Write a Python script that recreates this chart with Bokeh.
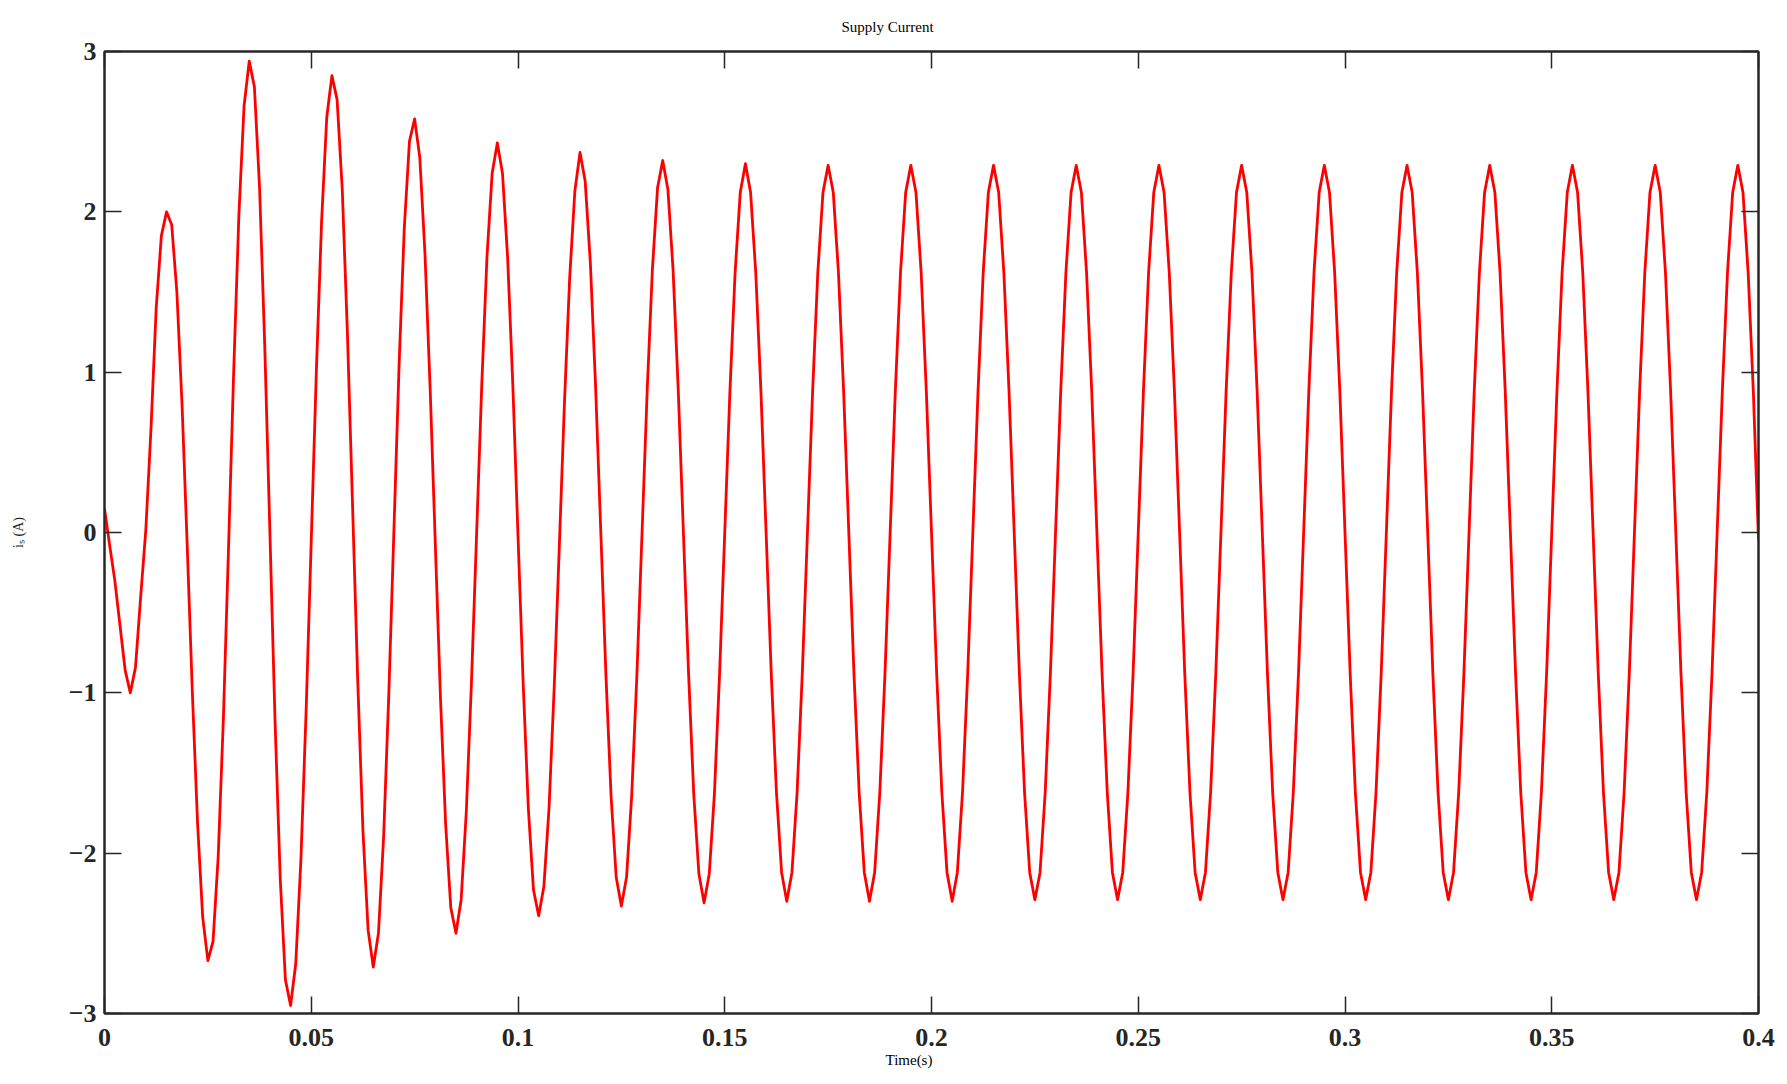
import numpy as np
from bokeh.plotting import figure
from bokeh.models import LinearAxis, FixedTicker, Range1d, Title
from bokeh.embed import file_html
from bokeh.resources import INLINE

# ---- data ----
# the supply current is sampled every 1.25 ms from 0 s to 0.4 s (16 samples per 20 ms period)
t_start_s = 0.0
t_end_s = 0.4
n_samples = 321

current_A = [
    # 0.00 - 0.02 s
    0.15, -0.08, -0.30, -0.58, -0.86, -1.00, -0.84, -0.40, 0.02, 0.65, 1.40, 1.85, 2.00, 1.92, 1.50, 0.80,
    # 0.02 - 0.04 s
    -0.08, -1.00, -1.81, -2.40, -2.67, -2.55, -2.02, -1.16, -0.09, 1.01, 1.98, 2.66, 2.94, 2.78, 2.15, 1.17,
    # 0.04 - 0.06 s
    0.00, -1.18, -2.16, -2.79, -2.95, -2.69, -2.04, -1.12, -0.05, 1.02, 1.94, 2.59, 2.85, 2.70, 2.14, 1.24,
    # 0.06 - 0.08 s
    0.16, -0.93, -1.86, -2.48, -2.71, -2.50, -1.90, -1.01, 0.02, 1.05, 1.90, 2.44, 2.58, 2.34, 1.74, 0.90,
    # 0.08 - 0.10 s
    -0.07, -1.03, -1.82, -2.34, -2.50, -2.29, -1.74, -0.93, 0.00, 0.93, 1.72, 2.24, 2.43, 2.24, 1.71, 0.92,
    # 0.10 - 0.12 s
    -0.02, -0.94, -1.72, -2.23, -2.39, -2.21, -1.72, -0.97, -0.08, 0.82, 1.59, 2.13, 2.37, 2.19, 1.68, 0.92,
    # 0.12 - 0.14 s
    0.02, -0.88, -1.64, -2.15, -2.33, -2.15, -1.64, -0.89, 0.00, 0.89, 1.64, 2.15, 2.32, 2.14, 1.64, 0.89,
    # 0.14 - 0.16 s
    0.00, -0.88, -1.63, -2.13, -2.31, -2.13, -1.63, -0.88, 0.00, 0.88, 1.62, 2.12, 2.30, 2.12, 1.62, 0.88,
    # 0.16 - 0.18 s
    0.00, -0.88, -1.62, -2.12, -2.30, -2.12, -1.62, -0.88, 0.00, 0.88, 1.62, 2.12, 2.29, 2.12, 1.62, 0.88,
    # 0.18 - 0.20 s
    0.00, -0.88, -1.62, -2.12, -2.30, -2.12, -1.62, -0.88, 0.00, 0.88, 1.62, 2.12, 2.29, 2.12, 1.62, 0.88,
    # 0.20 - 0.22 s
    0.00, -0.88, -1.62, -2.12, -2.30, -2.12, -1.62, -0.88, 0.00, 0.88, 1.62, 2.12, 2.29, 2.12, 1.62, 0.88,
    # 0.22 - 0.24 s
    0.00, -0.88, -1.62, -2.12, -2.29, -2.12, -1.62, -0.88, 0.00, 0.88, 1.62, 2.12, 2.29, 2.12, 1.62, 0.88,
    # 0.24 - 0.26 s
    0.00, -0.88, -1.62, -2.12, -2.29, -2.12, -1.62, -0.88, 0.00, 0.88, 1.62, 2.12, 2.29, 2.12, 1.62, 0.88,
    # 0.26 - 0.28 s
    0.00, -0.88, -1.62, -2.12, -2.29, -2.12, -1.62, -0.88, 0.00, 0.88, 1.62, 2.12, 2.29, 2.12, 1.62, 0.88,
    # 0.28 - 0.30 s
    0.00, -0.88, -1.62, -2.12, -2.29, -2.12, -1.62, -0.88, 0.00, 0.88, 1.62, 2.12, 2.29, 2.12, 1.62, 0.88,
    # 0.30 - 0.32 s
    0.00, -0.88, -1.62, -2.12, -2.29, -2.12, -1.62, -0.88, 0.00, 0.88, 1.62, 2.12, 2.29, 2.12, 1.62, 0.88,
    # 0.32 - 0.34 s
    0.00, -0.88, -1.62, -2.12, -2.29, -2.12, -1.62, -0.88, 0.00, 0.88, 1.62, 2.12, 2.29, 2.12, 1.62, 0.88,
    # 0.34 - 0.36 s
    0.00, -0.88, -1.62, -2.12, -2.29, -2.12, -1.62, -0.88, 0.00, 0.88, 1.62, 2.12, 2.29, 2.12, 1.62, 0.88,
    # 0.36 - 0.38 s
    0.00, -0.88, -1.62, -2.12, -2.29, -2.12, -1.62, -0.88, 0.00, 0.88, 1.62, 2.12, 2.29, 2.12, 1.62, 0.88,
    # 0.38 - 0.40 s
    0.00, -0.88, -1.62, -2.12, -2.29, -2.12, -1.62, -0.88, 0.00, 0.88, 1.62, 2.12, 2.29, 2.12, 1.62, 0.88,
    # 0.40 s
    -0.05,
]

x_ticks = [0, 0.05, 0.1, 0.15, 0.2, 0.25, 0.3, 0.35, 0.4]
x_tick_labels = ["0", "0.05", "0.1", "0.15", "0.2", "0.25", "0.3", "0.35", "0.4"]
y_ticks = [-3, -2, -1, 0, 1, 2, 3]
y_tick_labels = ["\u22123", "\u22122", "\u22121", "0", "1", "2", "3"]

title_text = "Supply Current"
x_label = "Time(s)"
y_label = "i\u209b (A)"

time_s = np.linspace(t_start_s, t_end_s, n_samples)

# ---- figure ----
AX = "#262626"
p = figure(
    width=1778, height=1072,
    x_range=Range1d(0, 0.4), y_range=Range1d(-3, 3),
    output_backend="svg", toolbar_location=None,
    min_border_left=104, min_border_right=20, min_border_top=51, min_border_bottom=59,
)
p.background_fill_color = "white"
p.border_fill_color = "white"
p.outline_line_color = AX
p.outline_line_width = 2
p.xgrid.visible = False
p.ygrid.visible = False

p.line(time_s, current_A, line_color="#ff0000", line_width=2.8, line_join="round")


def style_axis(ax, ticks, labels=None):
    ax.ticker = FixedTicker(ticks=ticks)
    ax.axis_line_color = AX
    ax.axis_line_width = 2
    ax.major_tick_in = 17
    ax.major_tick_out = 0
    ax.major_tick_line_color = AX
    ax.major_tick_line_width = 1.5
    ax.minor_tick_line_color = None
    if labels is not None:
        ax.major_label_overrides = dict(zip(ticks, labels))
        ax.major_label_text_font = "Liberation Serif"
        ax.major_label_text_font_style = "bold"
        ax.major_label_text_font_size = "26px"
        ax.major_label_text_color = AX
    else:
        # tick marks only, no labels drawn
        ax.major_label_text_font_size = "1px"
        ax.major_label_text_color = None
        ax.major_label_standoff = 0


xa = p.xaxis[0]
style_axis(xa, x_ticks, x_tick_labels)
xa.major_label_standoff = 15

ya = p.yaxis[0]
style_axis(ya, y_ticks, y_tick_labels)
ya.major_label_standoff = 8
ya.axis_label = y_label
ya.axis_label_text_font = "Liberation Serif"
ya.axis_label_text_font_style = "normal"
ya.axis_label_text_font_size = "14px"
ya.axis_label_text_color = AX
ya.axis_label_standoff = 40

top_ax = LinearAxis()
style_axis(top_ax, x_ticks)
p.add_layout(top_ax, "above")

right_ax = LinearAxis()
style_axis(right_ax, y_ticks)
p.add_layout(right_ax, "right")

# title (placed left of centre, as in the reference)
p.add_layout(Title(text=title_text, align="left", offset=737,
                   text_font="Liberation Serif", text_font_style="normal",
                   text_font_size="15px", text_color="black", standoff=33), "above")

# x axis label as a bottom title so it can be offset like in the reference
p.add_layout(Title(text=x_label, align="left", offset=781,
                   text_font="Liberation Serif", text_font_style="normal",
                   text_font_size="15px", text_color="black", standoff=3), "below")

open("out.html", "w").write(file_html(p, INLINE))
